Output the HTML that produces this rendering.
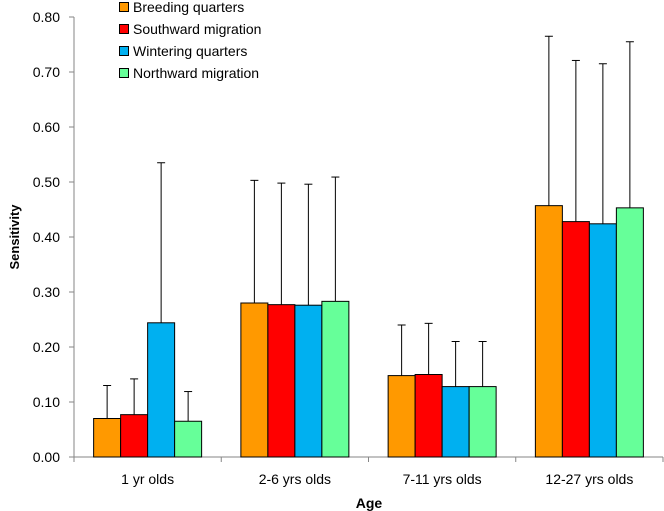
<!DOCTYPE html>
<html><head><meta charset="utf-8"><style>
body{margin:0;background:#fff}
svg{display:block;font-family:"Liberation Sans",Arial,sans-serif}
</style></head><body>
<svg id="c" width="664" height="511"></svg>
<script>
const categories=["1 yr olds","2-6 yrs olds","7-11 yrs olds","12-27 yrs olds"];
const seriesNames=["Breeding quarters","Southward migration","Wintering quarters","Northward migration"];
const colors=["#ff9900","#ff0000","#00b0f0","#66ff99"];
const breeding=[0.070,0.280,0.148,0.457];
const southward=[0.077,0.277,0.150,0.428];
const wintering=[0.244,0.276,0.128,0.424];
const northward=[0.065,0.283,0.128,0.453];
const breedingErr=[0.130,0.503,0.240,0.765];
const southwardErr=[0.142,0.498,0.243,0.721];
const winteringErr=[0.535,0.496,0.210,0.715];
const northwardErr=[0.119,0.509,0.210,0.755];
const yTicks=[0,0.1,0.2,0.3,0.4,0.5,0.6,0.7,0.8];
const values=[breeding,southward,wintering,northward];
const errs=[breedingErr,southwardErr,winteringErr,northwardErr];
const svg=document.getElementById('c');
const NS='http://www.w3.org/2000/svg';
const x0=74,x1=663,y0=457,y1=17;
const y=v=>y0-(v/0.8)*(y0-y1);
const cw=(x1-x0)/categories.length;
const bw=27;
function mk(t,a,p){const e=document.createElementNS(NS,t);for(const k in a)e.setAttribute(k,a[k]);(p||svg).appendChild(e);return e;}
let e=mk('line',{x1:x0,y1:y1,x2:x0,y2:y0,stroke:'#868686'});


e=mk('line',{x1:x0,y1:y0,x2:x1,y2:y0,stroke:'#868686'});


yTicks.forEach(t=>{
  mk('line',{x1:x0-5,y1:y(t),x2:x0,y2:y(t),stroke:'#868686'});
  const tx=mk('text',{x:60,y:y(t)+5,'text-anchor':'end','font-size':'14',fill:'#000'});
  tx.textContent=t.toFixed(2);
  
  
});
for(let i=0;i<=categories.length;i++){
  mk('line',{x1:x0+i*cw,y1:y0,x2:x0+i*cw,y2:y0+5,stroke:'#868686'});
}
categories.forEach((c,i)=>{
  const cx=x0+cw*(i+0.5);
  const tx=mk('text',{x:cx,y:484,'text-anchor':'middle','font-size':'14'});
  tx.textContent=c;
  
  
  values.forEach((s,j)=>{
    const bx=cx-2*bw+j*bw;
    const er=errs[j][i];
    const l=mk('line',{x1:bx+bw/2,y1:y(er),x2:bx+bw/2,y2:y(s[i]),stroke:'#000','stroke-width':1});
    mk('line',{x1:bx+bw/2-4,y1:y(er),x2:bx+bw/2+4,y2:y(er),stroke:'#000','stroke-width':1});
    
    
    const r=mk('rect',{x:bx,y:y(s[i]),width:bw,height:y0-y(s[i]),fill:colors[j],stroke:'#000','stroke-width':1});
    
    
  });
});
seriesNames.forEach((n,j)=>{
  const ly=7+j*22;
  const r=mk('rect',{x:119.5,y:ly-4.5,width:9,height:9,fill:colors[j],stroke:'#000','stroke-width':1});
  
  
  const t=mk('text',{x:133,y:ly+5,'font-size':'14'});
  t.textContent=n;
  
  
});
e=mk('text',{x:0,y:0,'font-size':'13','font-weight':'bold','text-anchor':'middle',transform:'translate(19,237) rotate(-90)'});
e.textContent='Sensitivity';


e=mk('text',{x:369,y:508,'font-size':'14','font-weight':'bold','text-anchor':'middle'});
e.textContent='Age';


</script>
</body></html>
